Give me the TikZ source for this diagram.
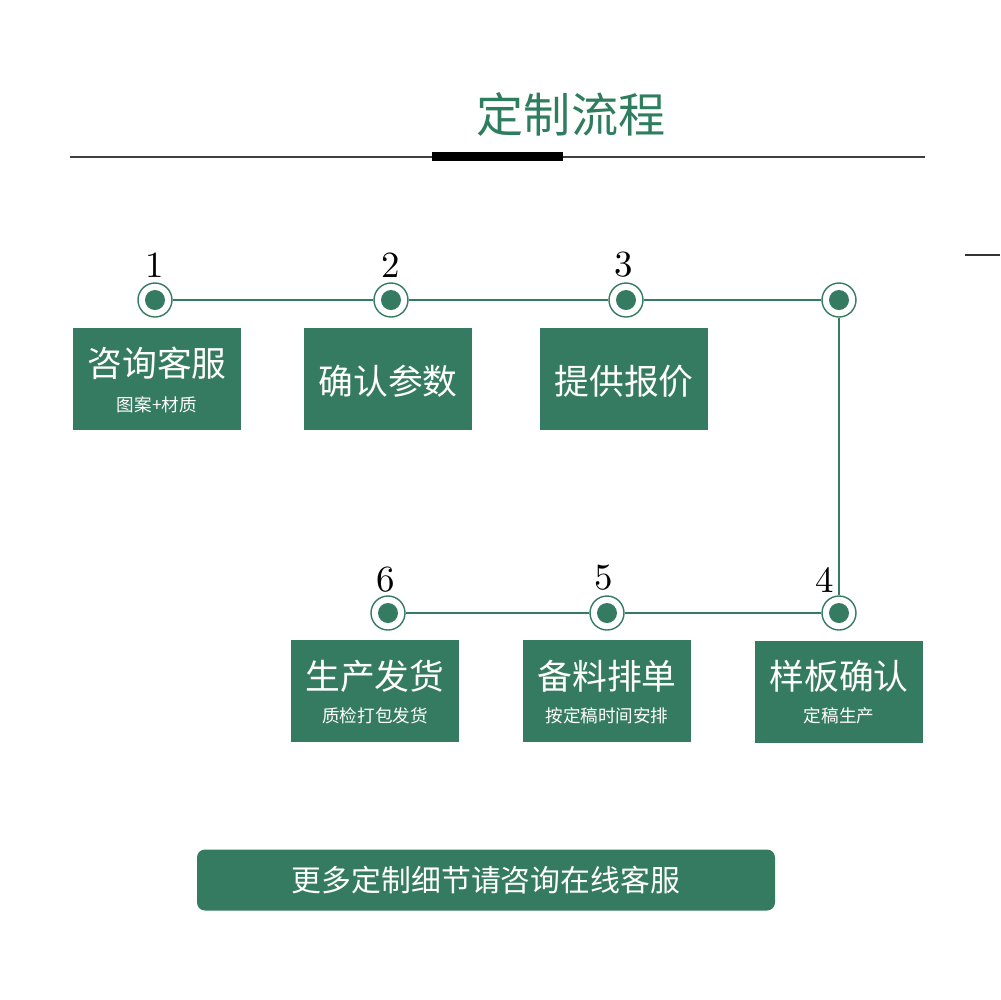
\documentclass[tikz,border=0pt]{standalone}
\usepackage{fontspec}
\newfontfamily\cjk{Noto Sans CJK SC}
\definecolor{flowgreen}{HTML}{357B62}
\definecolor{titlegreen}{HTML}{2F7D5F}
\begin{document}
\begin{tikzpicture}[x=0.1mm,y=-0.1mm,
		dot/.style={circle,draw=flowgreen,fill=white,line width=0.4pt,minimum size=3.4mm,inner sep=0pt,
				path picture={\fill[flowgreen] (path picture bounding box.center) circle (1mm);}},
		stepbox/.style={fill=flowgreen,minimum width=16.8mm,minimum height=10.2mm,inner sep=0pt},
		num/.style={font=\fontsize{10.5}{12}\selectfont},
		bigtxt/.style={text=white,font=\cjk\fontsize{9.9}{11}\selectfont},
		smalltxt/.style={text=white,font=\cjk\fontsize{5}{6}\selectfont},
		link/.style={draw=flowgreen,line width=0.5pt}
	]
	\useasboundingbox (0,0) rectangle (1000,1000);

	% title
	\node[text=titlegreen,font=\cjk\fontsize{13.4}{16}\selectfont] (title) at (571,115) {定制流程};
	\draw[line width=0.6pt,black!75] (70,157) -- (925,157);
	\fill[black] (432,152) rectangle (563,161);
	\draw[line width=0.4pt,black!80] (965,255) -- (1000,255);

	% top row
	\node[dot] (c1) at (155,300) {};
	\node[dot] (c2) at (391,300) {};
	\node[dot] (c3) at (626,300) {};
	\node[dot] (corner) at (839,300) {};
	\node[num] (n1) at (155,265) {1};
	\node[num] (n2) at (391,265) {2};
	\node[num] (n3) at (624,265) {3};

	% bottom row
	\node[dot] (c4) at (839,613) {};
	\node[dot] (c5) at (607,613) {};
	\node[dot] (c6) at (388,613) {};
	\node[num] (n4) at (825,580) {4};
	\node[num] (n5) at (604,578) {5};
	\node[num] (n6) at (386,580) {6};

	\draw[link] (c1) -- (c2) -- (c3) -- (corner) -- (c4) -- (c5) -- (c6);

	% boxes
	\node[stepbox] (b1) at (157,379) {};
	\node[stepbox] (b2) at (388,379) {};
	\node[stepbox] (b3) at (624,379) {};
	\node[stepbox] (b6) at (375,691) {};
	\node[stepbox] (b5) at (607,691) {};
	\node[stepbox] (b4) at (839,692) {};

	\node[bigtxt] (t1) at (157,363) {咨询客服};
	\node[smalltxt] (s1) at (157,405) {图案+材质};
	\node[bigtxt] (t2) at (388,381) {确认参数};
	\node[bigtxt] (t3) at (624,381) {提供报价};
	\node[bigtxt] (t4) at (839,676) {样板确认};
	\node[smalltxt] (s4) at (839,716) {定稿生产};
	\node[bigtxt] (t5) at (607,676) {备料排单};
	\node[smalltxt] (s5) at (607,716) {按定稿时间安排};
	\node[bigtxt] (t6) at (375,676) {生产发货};
	\node[smalltxt] (s6) at (375,716) {质检打包发货};

	% footer
	\node[fill=flowgreen,rounded corners=0.8mm,minimum width=57.8mm,minimum height=6.1mm,
		text=white,font=\cjk\fontsize{8.5}{10}\selectfont] (more) at (486,880) {更多定制细节请咨询在线客服};
\end{tikzpicture}
\end{document}
